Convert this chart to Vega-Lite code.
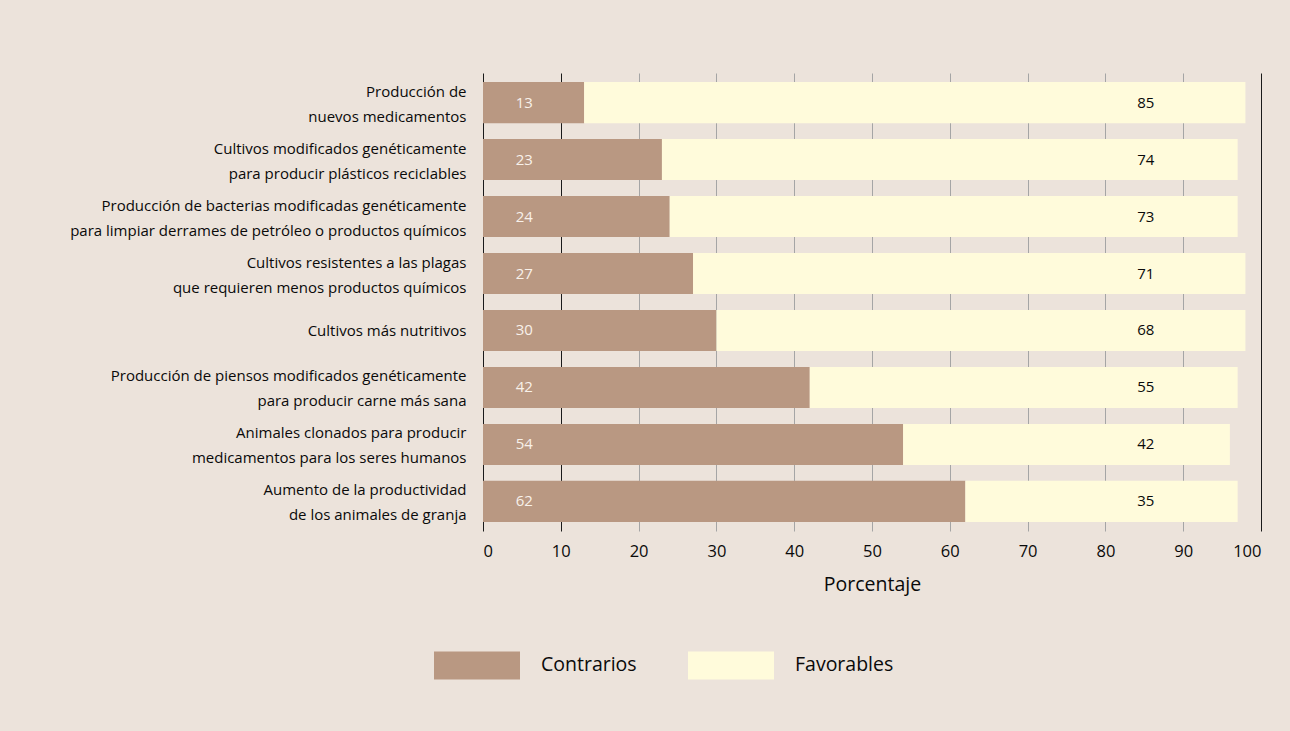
{
  "$schema": "https://vega.github.io/schema/vega-lite/v6.json",
  "width": 778,
  "height": 458,
  "autosize": {"type": "none"},
  "padding": {"left": 483, "top": 73, "right": 29, "bottom": 200},
  "background": "#ece3db",
  "config": {
    "view": {"stroke": null},
    "font": "Open Sans",
    "axis": {"labelFont": "Open Sans", "titleFont": "Open Sans", "labelColor": "#0a0a0a", "titleColor": "#0a0a0a"}
  },
  "data": {
    "values": [
      {"cat": "Producción de|nuevos medicamentos", "tipo": "Contrarios", "valor": 13},
      {"cat": "Producción de|nuevos medicamentos", "tipo": "Favorables", "valor": 85},
      {"cat": "Cultivos modificados genéticamente|para producir plásticos reciclables", "tipo": "Contrarios", "valor": 23},
      {"cat": "Cultivos modificados genéticamente|para producir plásticos reciclables", "tipo": "Favorables", "valor": 74},
      {"cat": "Producción de bacterias modificadas genéticamente|para limpiar derrames de petróleo o productos químicos", "tipo": "Contrarios", "valor": 24},
      {"cat": "Producción de bacterias modificadas genéticamente|para limpiar derrames de petróleo o productos químicos", "tipo": "Favorables", "valor": 73},
      {"cat": "Cultivos resistentes a las plagas|que requieren menos productos químicos", "tipo": "Contrarios", "valor": 27},
      {"cat": "Cultivos resistentes a las plagas|que requieren menos productos químicos", "tipo": "Favorables", "valor": 71},
      {"cat": "Cultivos más nutritivos ", "tipo": "Contrarios", "valor": 30},
      {"cat": "Cultivos más nutritivos ", "tipo": "Favorables", "valor": 68},
      {"cat": "Producción de piensos modificados genéticamente|para producir carne más sana", "tipo": "Contrarios", "valor": 42},
      {"cat": "Producción de piensos modificados genéticamente|para producir carne más sana", "tipo": "Favorables", "valor": 55},
      {"cat": "Animales clonados para producir|medicamentos para los seres humanos", "tipo": "Contrarios", "valor": 54},
      {"cat": "Animales clonados para producir|medicamentos para los seres humanos", "tipo": "Favorables", "valor": 42},
      {"cat": "Aumento de la productividad|de los animales de granja", "tipo": "Contrarios", "valor": 62},
      {"cat": "Aumento de la productividad|de los animales de granja", "tipo": "Favorables", "valor": 35}
    ]
  },
  "encoding": {
    "y": {
      "field": "cat",
      "type": "nominal",
      "sort": null,
      "scale": {"paddingInner": 0.28, "paddingOuter": 0.16},
      "axis": {
        "title": null,
        "domain": false,
        "ticks": false,
        "grid": false,
        "labelFontSize": 15,
        "labelLineHeight": 25,
        "labelPadding": 17,
        "labelLimit": 500,
        "labelOffset": {"condition": {"test": "indexof(datum.label, '|') >= 0", "value": -11}, "value": 1},
        "labelExpr": "split(datum.label, '|')"
      }
    }
  },
  "layer": [
    {
      "mark": {"type": "bar"},
      "encoding": {
        "x": {
          "field": "valor",
          "type": "quantitative",
          "stack": "zero",
          "scale": {"domain": [0, 100], "nice": false},
          "axis": {
            "title": "Porcentaje",
            "titleFontSize": 19.5,
            "titleFontWeight": "normal",
            "titlePadding": 16,
            "values": [0, 10, 20, 30, 40, 50, 60, 70, 80, 90, 100],
            "domain": false,
            "ticks": false,
            "grid": true,
            "gridColor": {"condition": {"test": "datum.value <= 10 || datum.value >= 100", "value": "#1a1a1a"}, "value": "#a5a5a5"},
            "gridOpacity": 1,
            "gridWidth": 1,
            "labelFontSize": 16.5,
            "labelPadding": 12
          }
        },
        "color": {
          "field": "tipo",
          "type": "nominal",
          "scale": {"domain": ["Contrarios", "Favorables"], "range": ["#b99882", "#fffbdb"]},
          "legend": {
            "title": null,
            "orient": "none",
            "legendX": -49,
            "legendY": 549,
            "direction": "horizontal",
            "symbolType": "M-1,-0.326H1V0.326H-1Z",
            "symbolSize": 7396,
            "symbolStrokeWidth": 0,
            "symbolOpacity": 1,
            "labelFontSize": 19.5,
            "labelFont": "Open Sans",
            "labelColor": "#0a0a0a",
            "labelOffset": 21,
            "columnPadding": 51
          }
        },
        "order": {"field": "tipo", "sort": "ascending"}
      }
    },
    {
      "transform": [{"filter": "datum.tipo == 'Contrarios'"}],
      "mark": {"type": "text", "fontSize": 15, "color": "#f8f1ea"},
      "encoding": {
        "x": {"datum": 5.3, "type": "quantitative"},
        "text": {"field": "valor", "type": "quantitative"}
      }
    },
    {
      "transform": [{"filter": "datum.tipo == 'Favorables'"}],
      "mark": {"type": "text", "fontSize": 15, "color": "#0a0a0a"},
      "encoding": {
        "x": {"datum": 85.2, "type": "quantitative"},
        "text": {"field": "valor", "type": "quantitative"}
      }
    }
  ]
}
